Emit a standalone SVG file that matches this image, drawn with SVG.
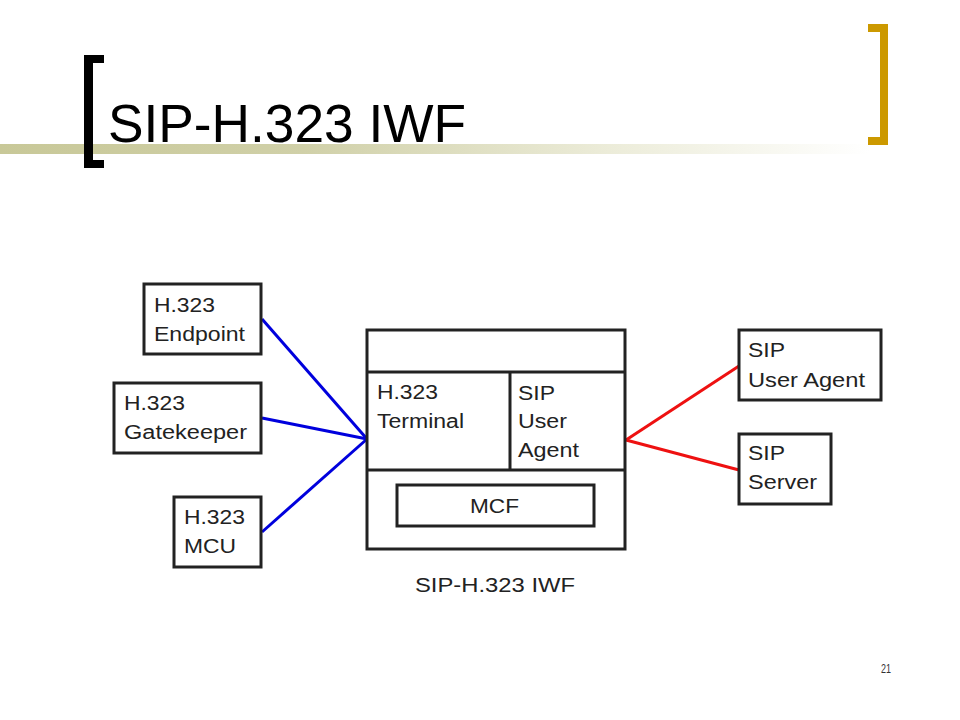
<svg xmlns="http://www.w3.org/2000/svg" width="960" height="720" viewBox="0 0 960 720">
  <defs>
    <linearGradient id="bar" x1="0" y1="0" x2="1" y2="0">
      <stop offset="0" stop-color="#c8c898"/>
      <stop offset="0.35" stop-color="#d0d0a8"/>
      <stop offset="0.7" stop-color="#ececd9"/>
      <stop offset="1" stop-color="#ffffff"/>
    </linearGradient>
  </defs>
  <style>
    .box { fill: #ffffff; stroke: #222222; stroke-width: 3; }
    .lbl { font-family: "Liberation Sans", Arial, sans-serif; font-size: 20px; fill: #222222; }
    .blue { stroke: #0000dd; stroke-width: 3; fill: none; }
    .red { stroke: #ee1111; stroke-width: 3; fill: none; }
  </style>
  <rect width="960" height="720" fill="#ffffff"/>

  <g id="title">
    <rect x="0" y="144" width="870" height="10" fill="url(#bar)"/>
    <path d="M84 55 H104 V63 H93 V160 H104 V168 H84 Z" fill="#000000"/>
    <path d="M868 24 H888 V145 H868 V137 H880 V32 H868 Z" fill="#cc9900"/>
    <text x="108" y="142" font-family="Liberation Sans, Arial, sans-serif" font-size="54" fill="#000000" textLength="358" lengthAdjust="spacingAndGlyphs">SIP-H.323 IWF</text>
  </g>

  <g id="connectors">
    <line class="blue" x1="262" y1="319" x2="367" y2="439"/>
    <line class="blue" x1="262" y1="418" x2="367" y2="439"/>
    <line class="blue" x1="262" y1="532" x2="367" y2="439"/>
    <line class="red" x1="626" y1="440" x2="739" y2="366"/>
    <line class="red" x1="626" y1="440" x2="739" y2="470"/>
  </g>

  <g id="h323-endpoint">
    <rect class="box" x="144" y="284" width="117" height="70"/>
    <text class="lbl" x="154" y="312" textLength="61" lengthAdjust="spacingAndGlyphs">H.323</text>
    <text class="lbl" x="154" y="341" textLength="91" lengthAdjust="spacingAndGlyphs">Endpoint</text>
  </g>

  <g id="h323-gatekeeper">
    <rect class="box" x="114" y="383" width="147" height="70"/>
    <text class="lbl" x="124" y="410" textLength="61" lengthAdjust="spacingAndGlyphs">H.323</text>
    <text class="lbl" x="124" y="439" textLength="123" lengthAdjust="spacingAndGlyphs">Gatekeeper</text>
  </g>

  <g id="h323-mcu">
    <rect class="box" x="174" y="497" width="87" height="70"/>
    <text class="lbl" x="184" y="524" textLength="61" lengthAdjust="spacingAndGlyphs">H.323</text>
    <text class="lbl" x="184" y="553" textLength="52" lengthAdjust="spacingAndGlyphs">MCU</text>
  </g>

  <g id="iwf">
    <rect class="box" x="367" y="330" width="258" height="219"/>
    <line x1="367" y1="372" x2="625" y2="372" stroke="#222222" stroke-width="3"/>
    <line x1="367" y1="470" x2="625" y2="470" stroke="#222222" stroke-width="3"/>
    <line x1="510" y1="372" x2="510" y2="470" stroke="#222222" stroke-width="3"/>
    <text class="lbl" x="377" y="399" textLength="61" lengthAdjust="spacingAndGlyphs">H.323</text>
    <text class="lbl" x="377" y="428" textLength="87" lengthAdjust="spacingAndGlyphs">Terminal</text>
    <text class="lbl" x="518" y="400" textLength="37" lengthAdjust="spacingAndGlyphs">SIP</text>
    <text class="lbl" x="518" y="428" textLength="49" lengthAdjust="spacingAndGlyphs">User</text>
    <text class="lbl" x="518" y="457" textLength="61" lengthAdjust="spacingAndGlyphs">Agent</text>
  </g>

  <g id="mcf">
    <rect class="box" x="397" y="485" width="197" height="41"/>
    <text class="lbl" x="470" y="513" textLength="49" lengthAdjust="spacingAndGlyphs">MCF</text>
  </g>

  <g id="sip-user-agent">
    <rect class="box" x="739" y="330" width="142" height="70"/>
    <text class="lbl" x="748" y="357" textLength="37" lengthAdjust="spacingAndGlyphs">SIP</text>
    <text class="lbl" x="748" y="387" textLength="117" lengthAdjust="spacingAndGlyphs">User Agent</text>
  </g>

  <g id="sip-server">
    <rect class="box" x="739" y="434" width="92" height="70"/>
    <text class="lbl" x="748" y="460" textLength="37" lengthAdjust="spacingAndGlyphs">SIP</text>
    <text class="lbl" x="748" y="489" textLength="69" lengthAdjust="spacingAndGlyphs">Server</text>
  </g>

  <g id="caption">
    <text class="lbl" x="415" y="592" font-size="21" textLength="160" lengthAdjust="spacingAndGlyphs">SIP-H.323 IWF</text>
  </g>

  <g id="page-number">
    <text x="881" y="673" font-family="Liberation Sans, Arial, sans-serif" font-size="12" fill="#333333" textLength="10" lengthAdjust="spacingAndGlyphs">21</text>
  </g>
</svg>
